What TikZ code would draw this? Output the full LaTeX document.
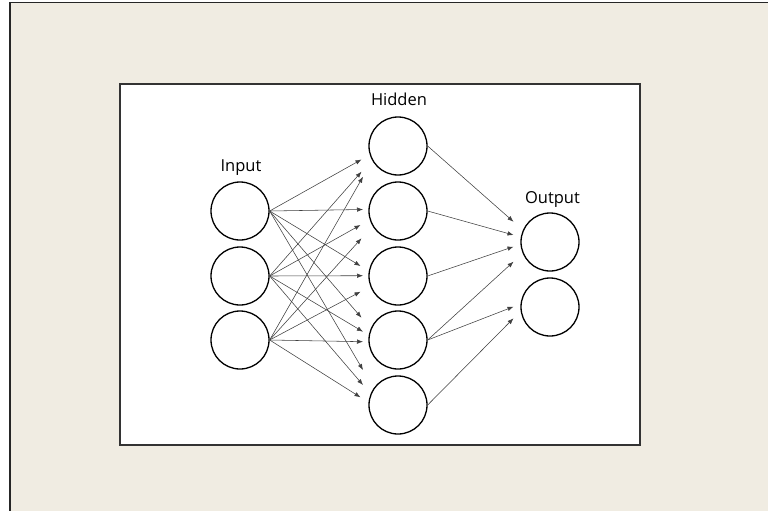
\documentclass[tikz,border=0pt]{standalone}
\usepackage{fontspec}
\setmainfont{Open Sans}
\usetikzlibrary{arrows.meta}
\definecolor{beige}{RGB}{240,236,226}
\begin{document}
\begin{tikzpicture}[x=1pt,y=-1pt,
  neuron/.style={circle,draw=black,line width=1.3pt,minimum size=58pt,inner sep=0pt},
  conn/.style={draw=black!75,line width=0.55pt,-{Latex[length=6pt,width=4.5pt]}},
  lbl/.style={font=\fontsize{16.5}{20}\selectfont,inner sep=0pt,anchor=base}]
\useasboundingbox (0,0) rectangle (768,511);
\fill[white] (0,0) rectangle (768,511);
\fill[beige] (10,2.5) rectangle (768,511);
\draw[line width=1.5pt,black!85] (10,511) -- (10,2.5) -- (768,2.5);
\draw[fill=white,draw=black!80,line width=1.2pt] (120,84) rectangle (640,445);

\node[neuron] (i1) at (240,211) {};
\node[neuron] (i2) at (240,276) {};
\node[neuron] (i3) at (240,340) {};
\node[neuron] (h1) at (398,146) {};
\node[neuron] (h2) at (398,211) {};
\node[neuron] (h3) at (398,276) {};
\node[neuron] (h4) at (398,340) {};
\node[neuron] (h5) at (398,405) {};
\node[neuron] (o1) at (550,242) {};
\node[neuron] (o2) at (550,307) {};

\node[lbl] (li) at (241,171) {Input};
\node[lbl] (lh) at (399,105) {Hidden};
\node[lbl] (lo) at (552.5,203) {Output};

\coordinate (t11) at (361.5,159.5);
\coordinate (t21) at (361.5,171.7);
\coordinate (t31) at (363,176.7);
\coordinate (t12) at (363,209.5);
\coordinate (t22) at (360.5,225);
\coordinate (t32) at (361.5,238.3);
\coordinate (t13) at (360.5,266);
\coordinate (t23) at (363,275.7);
\coordinate (t33) at (360.5,291.7);
\coordinate (t14) at (361.5,317.7);
\coordinate (t24) at (363,331.7);
\coordinate (t34) at (363,341.7);
\coordinate (t15) at (363,370);
\coordinate (t25) at (363,385);
\coordinate (t35) at (360.5,397.3);

\foreach \i in {1,2,3}{
  \foreach \h in {1,...,5}{
    \draw[conn] (i\i.east) -- (t\i\h);
  }
}

\coordinate (u11) at (513.5,221.7);
\coordinate (u21) at (513.5,235);
\coordinate (u31) at (513.5,246.7);
\coordinate (u41) at (513.5,261.7);
\coordinate (u42) at (513.5,306.7);
\coordinate (u52) at (513.5,318.3);

\draw[conn] (h1.east) -- (u11);
\draw[conn] (h2.east) -- (u21);
\draw[conn] (h3.east) -- (u31);
\draw[conn] (h4.east) -- (u41);
\draw[conn] (h4.east) -- (u42);
\draw[conn] (h5.east) -- (u52);
\end{tikzpicture}
\end{document}
